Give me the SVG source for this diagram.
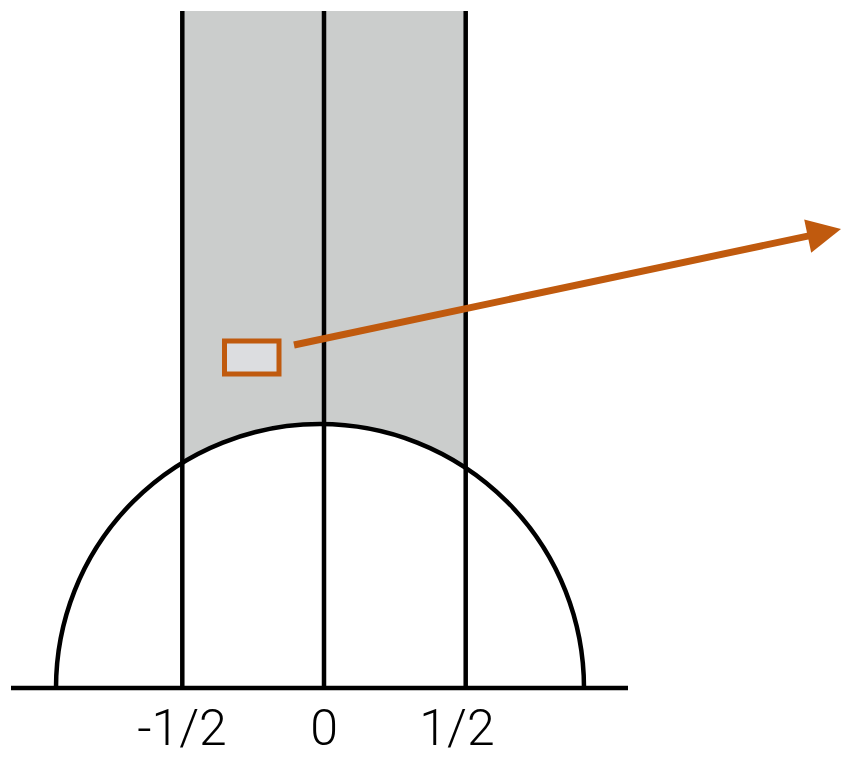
<svg xmlns="http://www.w3.org/2000/svg" width="842" height="759" viewBox="0 0 842 759">
<style>
.ln{stroke:#000;stroke-width:4.5;fill:none}
.lbl{font-family:Roboto,"Liberation Sans",sans-serif;font-weight:300;font-size:50px;fill:#000;text-anchor:middle}
.arrow{stroke:#c05a0e;stroke-width:7;fill:none}
.head{fill:#c05a0e}
</style>
<rect width="842" height="759" fill="#fff"/>
<g id="strip">
<path d="M182.3,11 L465.7,11 L465.7,468 A264,264 0 0 0 182.3,463 Z" fill="#cbcdcc"/>
</g>
<g id="semicircle">
<path class="ln" d="M56,688 A264,264 0 0 1 584,688"/>
</g>
<g id="axis">
<line class="ln" x1="11" y1="688" x2="628" y2="688"/>
</g>
<g id="lines">
<line class="ln" x1="182.3" y1="11" x2="182.3" y2="690"/>
<line class="ln" x1="324" y1="11" x2="324" y2="690"/>
<line class="ln" x1="465.7" y1="11" x2="465.7" y2="690"/>
</g>
<g id="box">
<rect x="224.5" y="341" width="54.5" height="33" fill="#dcdde0" stroke="#c05a0e" stroke-width="5"/>
</g>
<g id="connectors">
<line class="arrow" x1="294" y1="345" x2="810" y2="235.6"/>
<polygon class="head" points="841,229 804.2,219.5 811.2,252.7"/>
</g>
<g id="labels">
<text class="lbl" x="182" y="745">-1/2</text>
<text class="lbl" x="324" y="745">0</text>
<text class="lbl" x="457" y="745">1/2</text>
</g>
</svg>
